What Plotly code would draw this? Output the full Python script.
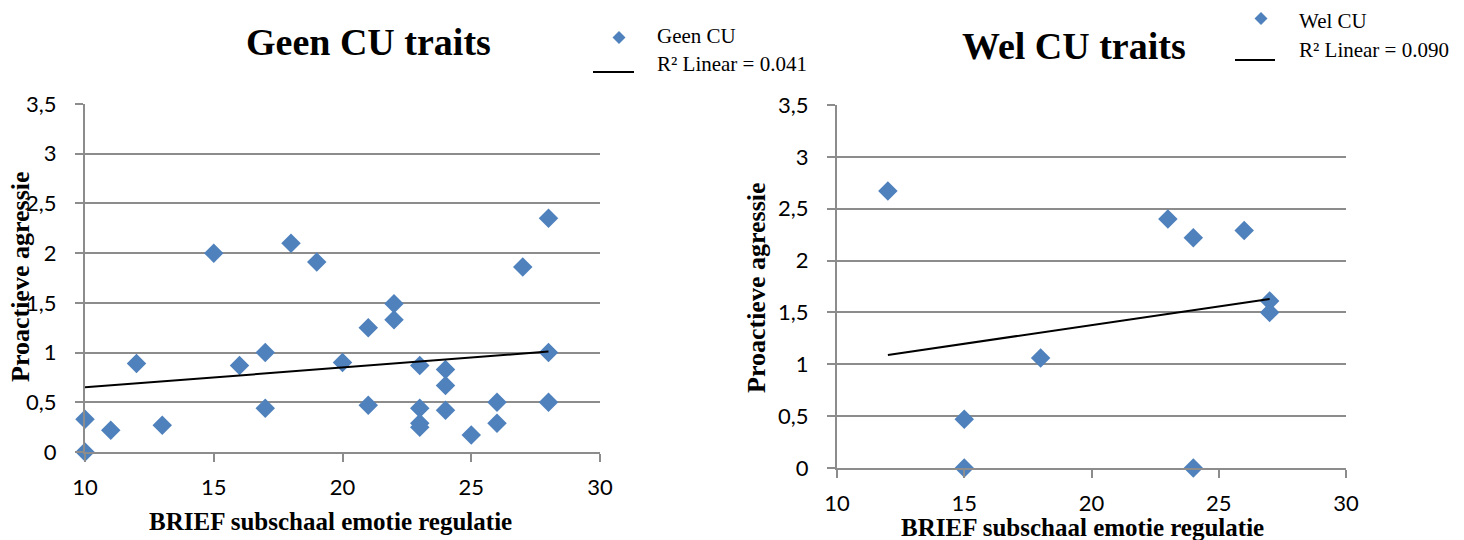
import plotly.graph_objects as go

W, H = 1464, 540

# ---- data: Geen CU traits ----
geen_x = [10, 10, 11, 12, 13, 15, 16, 17, 17, 18, 19, 20, 21, 21, 22, 22,
          23, 23, 23, 23, 24, 24, 24, 25, 26, 26, 27, 28, 28, 28]
geen_y = [0.33, 0.0, 0.22, 0.89, 0.27, 2.0, 0.87, 1.0, 0.44, 2.1, 1.91, 0.90,
          1.25, 0.47, 1.49, 1.33, 0.87, 0.44, 0.29, 0.25, 0.83, 0.67, 0.42,
          0.17, 0.50, 0.29, 1.86, 2.35, 1.0, 0.5]
geen_fit_x = [10, 28]
geen_fit_y = [0.65, 1.01]

# ---- data: Wel CU traits ----
wel_x = [12, 15, 15, 18, 23, 24, 24, 26, 27, 27]
wel_y = [2.67, 0.47, 0.0, 1.06, 2.40, 2.22, 0.0, 2.29, 1.61, 1.50]
wel_fit_x = [12, 27]
wel_fit_y = [1.09, 1.63]

# ---- labels ----
y_tickvals = [0, 0.5, 1, 1.5, 2, 2.5, 3, 3.5]
y_ticktext = ["0", "0,5", "1", "1,5", "2", "2,5", "3", "3,5"]
x_tickvals = [10, 15, 20, 25, 30]
x_ticktext = ["10", "15", "20", "25", "30"]
title_left = "Geen CU traits"
title_right = "Wel CU traits"
xtitle = "BRIEF subschaal emotie regulatie"
ytitle = "Proactieve agressie"
name_left = "Geen CU"
name_right = "Wel CU"
fit_left = "R² Linear = 0.041"
fit_right = "R² Linear = 0.090"

BLUE = "#4F81BD"
GRID = "#8C8C8C"
SERIF = "Liberation Serif, Times New Roman, serif"
SANS = "Lato, Carlito, Calibri, sans-serif"

fig = go.Figure()

fig.add_trace(go.Scatter(x=geen_x, y=geen_y, mode="markers", name=name_left,
                         marker=dict(symbol="diamond", size=15, color=BLUE, line=dict(width=0)),
                         xaxis="x", yaxis="y", cliponaxis=False, showlegend=False))
fig.add_trace(go.Scatter(x=geen_fit_x, y=geen_fit_y, mode="lines", name=fit_left,
                         line=dict(color="black", width=2),
                         xaxis="x", yaxis="y", cliponaxis=False, showlegend=False))
fig.add_trace(go.Scatter(x=wel_x, y=wel_y, mode="markers", name=name_right,
                         marker=dict(symbol="diamond", size=15, color=BLUE, line=dict(width=0)),
                         xaxis="x2", yaxis="y2", cliponaxis=False, showlegend=False))
fig.add_trace(go.Scatter(x=wel_fit_x, y=wel_fit_y, mode="lines", name=fit_right,
                         line=dict(color="black", width=2),
                         xaxis="x2", yaxis="y2", cliponaxis=False, showlegend=False))


def px(x):
    return x / W


def py(y):
    return 1 - y / H


tickfont = dict(family=SANS, size=22, color="black")

common_x = dict(range=[10, 30], tickvals=x_tickvals, ticktext=x_ticktext,
                showgrid=False, zeroline=False, showline=True, linecolor=GRID, linewidth=2,
                ticks="outside", ticklen=8, tickwidth=2, tickcolor=GRID,
                tickfont=tickfont, ticklabelstandoff=7, fixedrange=True, automargin=False)
common_y = dict(range=[0, 3.5], tickvals=y_tickvals, ticktext=y_ticktext,
                showgrid=True, gridcolor=GRID, gridwidth=2, zeroline=False,
                showline=True, linecolor=GRID, linewidth=2,
                ticks="outside", ticklen=8, tickwidth=2, tickcolor=GRID,
                tickfont=tickfont, fixedrange=True, automargin=False)

fig.update_layout(
    width=W, height=H,
    margin=dict(l=0, r=0, t=0, b=0, pad=0, autoexpand=False),
    paper_bgcolor="white", plot_bgcolor="white",
    showlegend=False,
    xaxis=dict(domain=[px(85), px(600)], anchor="y", **common_x),
    yaxis=dict(domain=[py(452), py(104)], anchor="x", ticklabelstandoff=14, **common_y),
    xaxis2=dict(domain=[px(837), px(1346)], anchor="y2", **common_x),
    yaxis2=dict(domain=[py(468), py(105)], anchor="x2", ticklabelstandoff=14, **common_y),
)

ann = []
ann.append(dict(text="<b>%s</b>" % title_left, x=px(368), y=py(42), xref="paper", yref="paper",
                showarrow=False, xanchor="center", yanchor="middle",
                font=dict(family=SERIF, size=38, color="black")))
ann.append(dict(text="<b>%s</b>" % title_right, x=px(1074), y=py(46), xref="paper", yref="paper",
                showarrow=False, xanchor="center", yanchor="middle",
                font=dict(family=SERIF, size=38, color="black")))
for (xx, yy) in [(330, 521), (1082, 527)]:
    ann.append(dict(text="<b>%s</b>" % xtitle, x=px(xx), y=py(yy), xref="paper", yref="paper",
                    showarrow=False, xanchor="center", yanchor="middle",
                    font=dict(family=SERIF, size=25, color="black")))
for (xx, yy) in [(20, 277), (756, 288)]:
    ann.append(dict(text="<b>%s</b>" % ytitle, x=px(xx), y=py(yy), xref="paper", yref="paper",
                    showarrow=False, xanchor="center", yanchor="middle", textangle=-90,
                    font=dict(family=SERIF, size=26, color="black")))

# legend texts
legend_items = [
    (name_left, 655, 36), (fit_left, 655, 64),
    (name_right, 1297, 21), (fit_right, 1297, 50),
]
for (t, xx, yy) in legend_items:
    ann.append(dict(text=t, x=px(xx), y=py(yy), xref="paper", yref="paper",
                    showarrow=False, xanchor="left", yanchor="middle",
                    font=dict(family=SERIF, size=21, color="black")))
fig.update_layout(annotations=ann)

# legend keys (diamond + line)
shapes = []
for (cx, cy) in [(619, 37.5), (1261, 18.5)]:
    r = 6.5
    path = "M {:.5f} {:.5f} L {:.5f} {:.5f} L {:.5f} {:.5f} L {:.5f} {:.5f} Z".format(
        px(cx), py(cy - r), px(cx + r), py(cy), px(cx), py(cy + r), px(cx - r), py(cy))
    shapes.append(dict(type="path", path=path, xref="paper", yref="paper",
                       fillcolor=BLUE, line=dict(width=0)))
for (x0, x1, yy) in [(593, 634, 72), (1235, 1275, 60)]:
    shapes.append(dict(type="line", x0=px(x0), x1=px(x1), y0=py(yy), y1=py(yy),
                       xref="paper", yref="paper", line=dict(color="black", width=2)))
fig.update_layout(shapes=shapes)

fig.write_html("out.html", config={"displayModeBar": False},
               post_script="document.body.style.margin='0';document.body.style.padding='0';"
                           "document.body.style.overflow='hidden';")
